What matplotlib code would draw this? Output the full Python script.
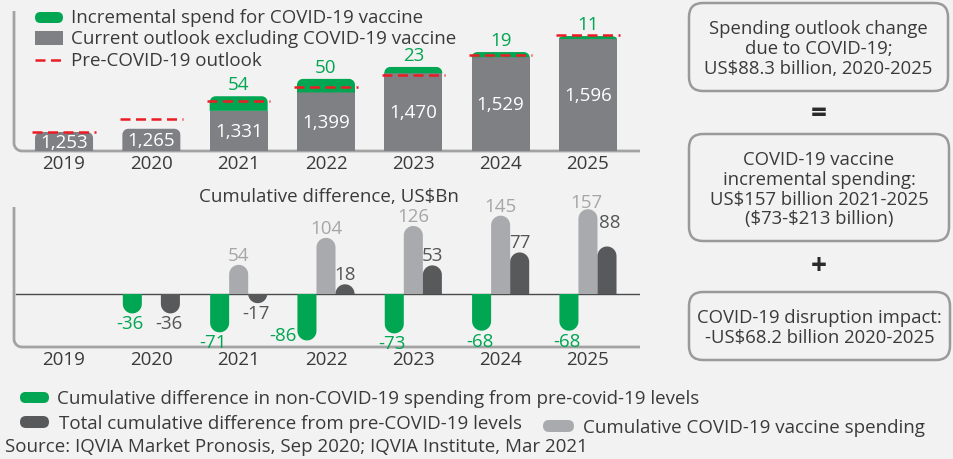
import matplotlib
matplotlib.use("Agg")
import matplotlib.pyplot as plt
import numpy as np
from matplotlib.patches import Polygon, FancyBboxPatch, Rectangle
from matplotlib.lines import Line2D

# ---- data ----
years = ["2019", "2020", "2021", "2022", "2023", "2024", "2025"]
current_outlook = [1253, 1265, 1331, 1399, 1470, 1529, 1596]
vaccine_increment = [0, 0, 54, 50, 23, 19, 11]
pre_covid = [1253, 1301, 1368, 1418, 1463, 1537, 1612]

cum_non_covid = [np.nan, -36, -71, -86, -73, -68, -68]
cum_vaccine = [np.nan, np.nan, 54, 104, 126, 145, 157]
cum_total = [np.nan, -36, -17, 18, 53, 77, 88]

# ---- style ----
GREEN = '#00a651'
GRAY = '#7f8084'
DARK = '#58595b'
LIGHT = '#a9aaad'
RED = '#ec1c24'
TXT = '#3a3a3a'
BG = '#f2f2f2'
FRAME = '#a3a3a3'
FS = 13.5
DASH = (0, (4, 2.2))

plt.rcParams['font.family'] = ['Open Sans', 'DejaVu Sans']
plt.rcParams['text.parse_math'] = False

W, H = 954, 460
fig = plt.figure(figsize=(W / 100, H / 100), dpi=100, facecolor=BG)


def ax_at(left, top, right, bottom):
    return fig.add_axes([left / W, 1 - bottom / H, (right - left) / W, (bottom - top) / H])


def round_bar(ax, x, base, top, width, r_px, **kw):
    # bar from base to top, rounded corners at the top end
    bb = ax.get_window_extent()
    x0, x1 = ax.get_xlim()
    y0, y1 = ax.get_ylim()
    sx = bb.width / (x1 - x0)
    sy = bb.height / (y1 - y0)
    h = top - base
    s = 1 if h >= 0 else -1
    rx = min(r_px / sx, width / 2)
    ry = min(r_px / sy, abs(h))
    left, right = x - width / 2, x + width / 2
    pts = [(left, base)]
    cx, cy = left + rx, top - s * ry
    for t in np.linspace(np.pi, np.pi / 2, 10):
        pts.append((cx + rx * np.cos(t), cy + s * ry * np.sin(t)))
    cx = right - rx
    for t in np.linspace(np.pi / 2, 0, 10):
        pts.append((cx + rx * np.cos(t), cy + s * ry * np.sin(t)))
    pts.append((right, base))
    ax.add_patch(Polygon(pts, closed=True, **kw))


# overlay for frames, legends and side boxes (pixel coordinates)
ov = fig.add_axes([0, 0, 1, 1])
ov.set_xlim(0, W)
ov.set_ylim(H, 0)
ov.axis('off')
ov.set_zorder(0)

# ---------------- top chart ----------------
ax1 = ax_at(14, 12, 640, 152)
ax1.set_zorder(1)
ax1.axis('off')
ax1.set_xlim(-0.573, 6.596)
ax1.set_ylim(1183, 1183 + 140 / 0.2711)
ybase = ax1.get_ylim()[0]
x = np.arange(len(years))
bw = 0.664

for i in range(len(years)):
    cur = current_outlook[i]
    inc = vaccine_increment[i]
    if inc > 0:
        ax1.add_patch(Rectangle((x[i] - bw / 2, ybase), bw, cur - ybase, color=GRAY, lw=0, zorder=2))
        round_bar(ax1, x[i], cur, cur + inc, bw, 6, color=GREEN, lw=0, zorder=2)
        ax1.annotate(str(inc), (x[i], cur + inc), xytext=(0, 12), textcoords='offset pixels',
                     ha='center', va='center', color=GREEN, fontsize=FS)
    else:
        round_bar(ax1, x[i], ybase, cur, bw, 6, color=GRAY, lw=0, zorder=2)
    ax1.text(x[i], (ybase + cur) / 2, f"{cur:,}", ha='center', va='center',
             color='white', fontsize=FS, zorder=4)
    ax1.hlines(pre_covid[i], x[i] - bw / 2 - 0.03, x[i] + bw / 2 + 0.03, colors=RED,
               linestyles=DASH, lw=1.8, zorder=3)
    ax1.text(x[i], -12 / 140, years[i], transform=ax1.get_xaxis_transform(),
             ha='center', va='center', color=TXT, fontsize=FS)

# ---------------- bottom chart ----------------
ax2 = ax_at(14, 208, 640, 348)
ax2.set_zorder(1)
ax2.axis('off')
ax2.set_xlim(-0.573, 6.596)
ax2.set_ylim(-53 / 0.54, 87 / 0.54)
ax2.axhline(0, xmin=0.003, xmax=1, color='#4a4a4a', lw=1, zorder=1)
sw = 0.218
series = [(cum_non_covid, -sw, GREEN, GREEN), (cum_vaccine, 0, LIGHT, '#a6a6a6'),
          (cum_total, sw, DARK, '#555555')]
# label nudges in pixels (dx, dy) for crowded spots
nudges = {(0, 3): (-24, 15), (0, 2): (-7, 0), (2, 6): (3, 14), (1, 6): (-2, -3)}
for si, (vals, off, col, lcol) in enumerate(series):
    for i, v in enumerate(vals):
        if np.isnan(v):
            continue
        round_bar(ax2, x[i] + off, 0, v, sw, 9.5, color=col, lw=0, zorder=2)
        dx, dy = nudges.get((si, i), (-2 if v < 0 else 0, 0))
        dy = dy + (10 if v > 0 else -10)
        ax2.annotate(f"{v:.0f}", (x[i] + off, v), xytext=(dx, dy), textcoords='offset pixels',
                     ha='center', va='center', color=lcol, fontsize=FS, zorder=4)
for i in range(len(years)):
    ax2.text(x[i], -12 / 140, years[i], transform=ax2.get_xaxis_transform(),
             ha='center', va='center', color=TXT, fontsize=FS)

ov.text(329, 197, "Cumulative difference, US$Bn", ha='center', va='center', color=TXT, fontsize=FS)

# axis frames with rounded corner
for top, bot in [(12, 152), (208, 348)]:
    r = 8
    t = np.linspace(np.pi, np.pi / 2, 12)
    fx = [14, 14] + list(14 + r + r * np.cos(t)) + [640]
    fy = [top, bot - r] + list(bot - r + r * np.sin(t)) + [bot]
    ov.add_line(Line2D(fx, fy, color=FRAME, lw=2, solid_capstyle='butt'))

# ---------------- top legend ----------------
ov.add_patch(FancyBboxPatch((35, 13), 28, 11, boxstyle='round,pad=0,rounding_size=5.5', color=GREEN, lw=0))
ov.add_patch(Rectangle((35, 32), 28, 14, color=GRAY, lw=0))
ov.add_line(Line2D([35, 62], [61, 61], color=RED, lw=1.8, ls=DASH))
for ty, lab in [(18, "Incremental spend for COVID-19 vaccine"),
                (39, "Current outlook excluding COVID-19 vaccine"),
                (61, "Pre-COVID-19 outlook")]:
    ov.text(71, ty, lab, ha='left', va='center', color=TXT, fontsize=13.5)

# ---------------- bottom legend ----------------
ov.add_patch(FancyBboxPatch((20, 393), 29, 11, boxstyle='round,pad=0,rounding_size=5.5', color=GREEN, lw=0))
ov.text(57, 399, "Cumulative difference in non-COVID-19 spending from pre-covid-19 levels",
        ha='left', va='center', color=TXT, fontsize=13.5)
ov.add_patch(FancyBboxPatch((20, 417), 29, 12, boxstyle='round,pad=0,rounding_size=6', color=DARK, lw=0))
ov.text(59, 424, "Total cumulative difference from pre-COVID-19 levels",
        ha='left', va='center', color=TXT, fontsize=13.5)
ov.add_patch(FancyBboxPatch((543, 421), 31, 12, boxstyle='round,pad=0,rounding_size=6', color=LIGHT, lw=0))
ov.text(583, 428, "Cumulative COVID-19 vaccine spending",
        ha='left', va='center', color=TXT, fontsize=13.5)
ov.text(5, 447, "Source: IQVIA Market Pronosis, Sep 2020; IQVIA Institute, Mar 2021",
        ha='left', va='center', color=TXT, fontsize=13.5)

# ---------------- side boxes ----------------
boxes = [((689, 4, 259, 88), [(29, "Spending outlook change"), (49, "due to COVID-19;"),
                              (69, "US$88.3 billion, 2020-2025")]),
         ((689, 135, 260, 107), [(160, "COVID-19 vaccine"), (180, "incremental spending:"),
                                 (200, "US$157 billion 2021-2025"), (219, "($73-$213 billion)")]),
         ((689, 293, 261, 68), [(318, "COVID-19 disruption impact:"), (338, "-US$68.2 billion 2020-2025")])]
for (bx, by, bwid, bh), lines in boxes:
    ov.add_patch(FancyBboxPatch((bx, by), bwid, bh, boxstyle='round,pad=0,rounding_size=14',
                                fc='none', ec='#9a9a9a', lw=1.8))
    for ly, s in lines:
        ov.text(bx + bwid / 2, ly, s, ha='center', va='center', color=TXT, fontsize=13.3)
ov.text(819, 115, "=", ha='center', va='center', color='#2a2a2a', fontsize=20, fontweight='bold')
ov.text(819, 267, "+", ha='center', va='center', color='#2a2a2a', fontsize=20, fontweight='bold')

fig.savefig("out.png", dpi=100, facecolor=BG)
